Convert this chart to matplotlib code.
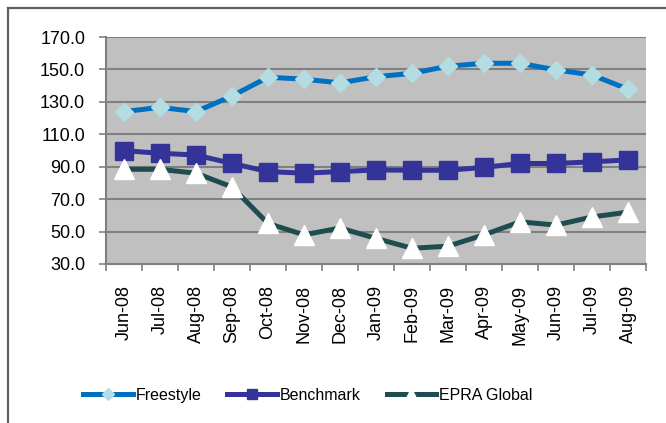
import matplotlib
matplotlib.use("Agg")
import matplotlib.pyplot as plt
from matplotlib.lines import Line2D

plt.rcParams["font.family"] = ["Liberation Sans", "DejaVu Sans"]

months = ["Jun-08", "Jul-08", "Aug-08", "Sep-08", "Oct-08", "Nov-08", "Dec-08",
          "Jan-09", "Feb-09", "Mar-09", "Apr-09", "May-09", "Jun-09", "Jul-09", "Aug-09"]
freestyle = [124.0, 126.6, 124.0, 133.6, 145.2, 144.0, 141.7, 145.5, 147.6,
             152.0, 153.8, 153.8, 149.7, 146.6, 137.8]
benchmark = [99.9, 98.3, 97.2, 92.0, 87.0, 86.0, 87.0, 88.0, 87.8, 87.8,
             89.6, 92.0, 92.0, 93.0, 94.2]
epra = [88.4, 88.4, 86.0, 77.5, 55.0, 48.0, 52.2, 45.8, 39.7, 41.0,
        48.0, 56.0, 54.0, 59.0, 62.0]
yticks = [30, 50, 70, 90, 110, 130, 150, 170]

fig = plt.figure(figsize=(6.66, 4.23), dpi=100)
fig.patch.set_facecolor("white")

# outer chart frame (cut off at right/bottom like the reference)
fig.add_artist(Line2D([8 / 666, 8 / 666], [0, 1 - 8 / 423], transform=fig.transFigure,
                      color="#606060", lw=1.6))
fig.add_artist(Line2D([8 / 666, 1], [1 - 8 / 423, 1 - 8 / 423], transform=fig.transFigure,
                      color="#606060", lw=1.6))

ax = fig.add_axes([106 / 666, 1 - 264 / 423, 540 / 666, 227 / 423])
ax.set_facecolor("#C0C0C0")

x = list(range(len(months)))
ax.plot(x, freestyle, color="#0070C0", lw=3.6, marker="D", markersize=9.5,
        markerfacecolor="#B3DDE3", markeredgecolor="#B3DDE3", label="Freestyle", zorder=3)
ax.plot(x, benchmark, color="#333399", lw=3.6, marker="s", markersize=13,
        markerfacecolor="#333399", markeredgecolor="#333399", label="Benchmark", zorder=3)
ax.plot(x, epra, color="#1F4D4F", lw=3.6, marker="^", markersize=14,
        markerfacecolor="white", markeredgecolor="white", label="EPRA Global", zorder=3)

ax.set_xlim(-0.5, len(months) - 0.5)
ax.set_ylim(30, 170)
ax.set_yticks(yticks)
ax.set_yticklabels([f"{v:.1f}" for v in yticks], fontsize=13)
ax.yaxis.grid(True, color="#808080", lw=1.5)
ax.set_axisbelow(True)

ax.set_xticks([i - 0.5 for i in range(len(months) + 1)])
ax.set_xticklabels([])
ax.set_xticks(x, minor=True)
ax.set_xticklabels(months, minor=True, rotation=90, fontsize=13)
ax.tick_params(axis="x", which="minor", length=0, pad=15)
ax.tick_params(axis="x", which="major", length=5, color="#808080", width=1.2)
ax.tick_params(axis="y", length=5, color="#808080", width=1.2, pad=10)

for s in ["top", "right"]:
    ax.spines[s].set_visible(False)
for s in ["left", "bottom"]:
    ax.spines[s].set_color("#808080")
    ax.spines[s].set_linewidth(1.5)

fig.legend(loc="center", bbox_to_anchor=(308 / 666, 1 - 395 / 423), ncol=3, frameon=False,
           fontsize=11.5, handlelength=3.1, handletextpad=0.2, columnspacing=1.6,
           markerscale=0.6)

fig.savefig("out.png", dpi=100)
